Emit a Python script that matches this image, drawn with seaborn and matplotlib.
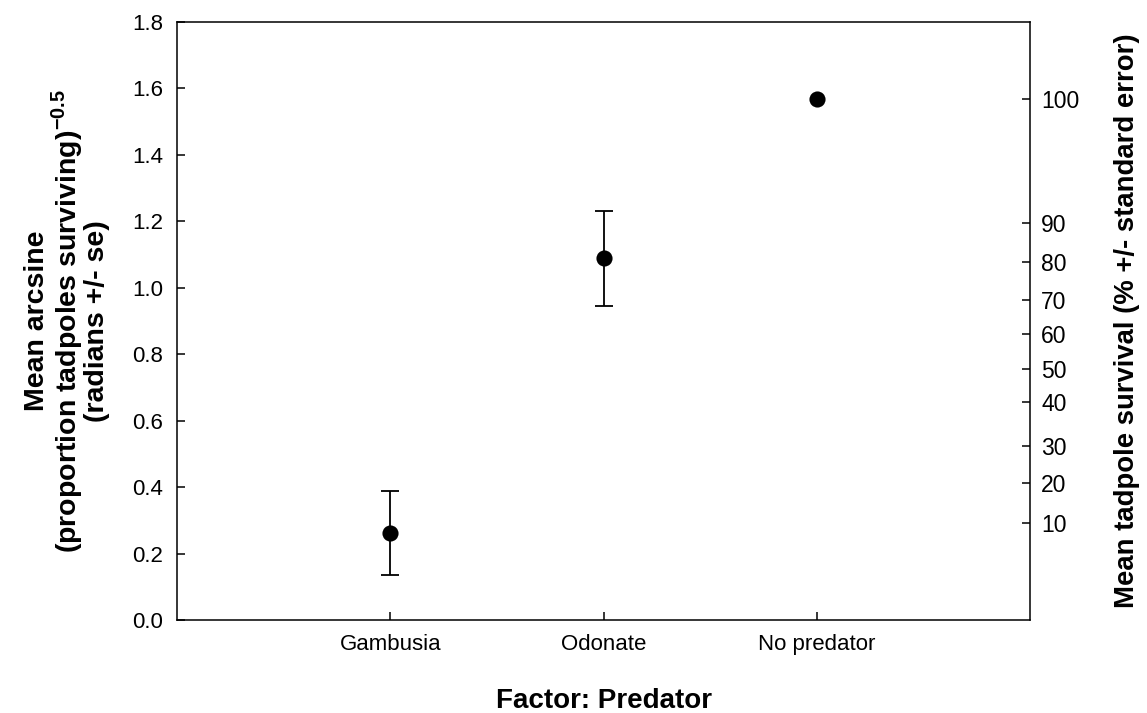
import matplotlib
matplotlib.use("Agg")
import matplotlib.pyplot as plt
import seaborn as sns
import pandas as pd

categories = ["Gambusia", "Odonate", "No predator"]
means = [0.262, 1.089, 1.568]
se = [0.126, 0.143, 0.0]
right_tick_pos = [0.291, 0.411, 0.525, 0.657, 0.756, 0.861, 0.963, 1.078, 1.196, 1.568]
right_tick_labels = ["10", "20", "30", "40", "50", "60", "70", "80", "90", "100"]
left_ticks = [0.0, 0.2, 0.4, 0.6, 0.8, 1.0, 1.2, 1.4, 1.6, 1.8]

sns.set_style("white")
plt.rcParams["font.family"] = ["Liberation Sans", "DejaVu Sans"]
plt.rcParams["mathtext.fontset"] = "custom"
plt.rcParams["mathtext.rm"] = "Liberation Sans"
plt.rcParams["mathtext.bf"] = "Liberation Sans:bold"
plt.rcParams["text.color"] = "black"
plt.rcParams["axes.labelcolor"] = "black"
plt.rcParams["xtick.color"] = "black"
plt.rcParams["ytick.color"] = "black"

df = pd.DataFrame({"pos": range(len(categories)), "mean": means, "se": se})
df_err = df[df["se"] > 0]

fig = plt.figure(figsize=(11.47, 7.13), dpi=100)
ax = fig.add_axes([177/1147, 1 - 620/713, (1030-177)/1147, (620-22)/713])

ax.errorbar(df_err["pos"], df_err["mean"], yerr=df_err["se"], fmt="none", ecolor="black",
            elinewidth=1.3, capsize=6.5, capthick=1.3, zorder=2)
sns.scatterplot(data=df, x="pos", y="mean", ax=ax, color="black", s=135,
                edgecolor="black", linewidth=0, zorder=3, legend=False)

ax.set_xlim(-1, 3)
ax.set_ylim(0, 1.8)
ax.set_xticks(range(len(categories)))
ax.set_xticklabels(categories)
ax.set_yticks(left_ticks)
ax.set_yticklabels([f"{v:.1f}" for v in left_ticks])
ax.tick_params(axis="both", direction="in", length=6, width=1.1, labelsize=16,
               color="black", labelcolor="black")
ax.tick_params(axis="y", pad=10, left=True, right=False)
ax.tick_params(axis="x", pad=10, bottom=True, top=False)
for s in ax.spines.values():
    s.set_visible(True)
    s.set_color("black")
    s.set_linewidth(1.1)

ax.set_xlabel("Factor: Predator", fontsize=20, fontweight="bold")
ax.xaxis.label.set_va("center")
ax.xaxis.set_label_coords(0.5, -0.135)
ax.set_ylabel("Mean arcsine\n(proportion tadpoles surviving)$^{\\mathbf{-0.5}}$\n(radians +/- se)",
              fontsize=20.5, fontweight="bold", linespacing=0.95)
ax.yaxis.label.set_va("center")
ax.yaxis.set_label_coords(-0.129, 0.5)

ax2 = ax.twinx()
ax2.set_ylim(0, 1.8)
ax2.set_yticks(right_tick_pos)
ax2.set_yticklabels(right_tick_labels)
ax2.tick_params(axis="y", direction="in", length=6, width=1.1, labelsize=16.5, pad=8,
                right=True, left=False, color="black", labelcolor="black")
for s in ax2.spines.values():
    s.set_visible(False)
ax2.set_ylabel("Mean tadpole survival (% +/- standard error)", fontsize=19.8,
               fontweight="bold", rotation=90)
ax2.yaxis.label.set_va("center")
ax2.yaxis.set_label_coords(1.1137, 0.5)

fig.savefig("out.png", dpi=100)
